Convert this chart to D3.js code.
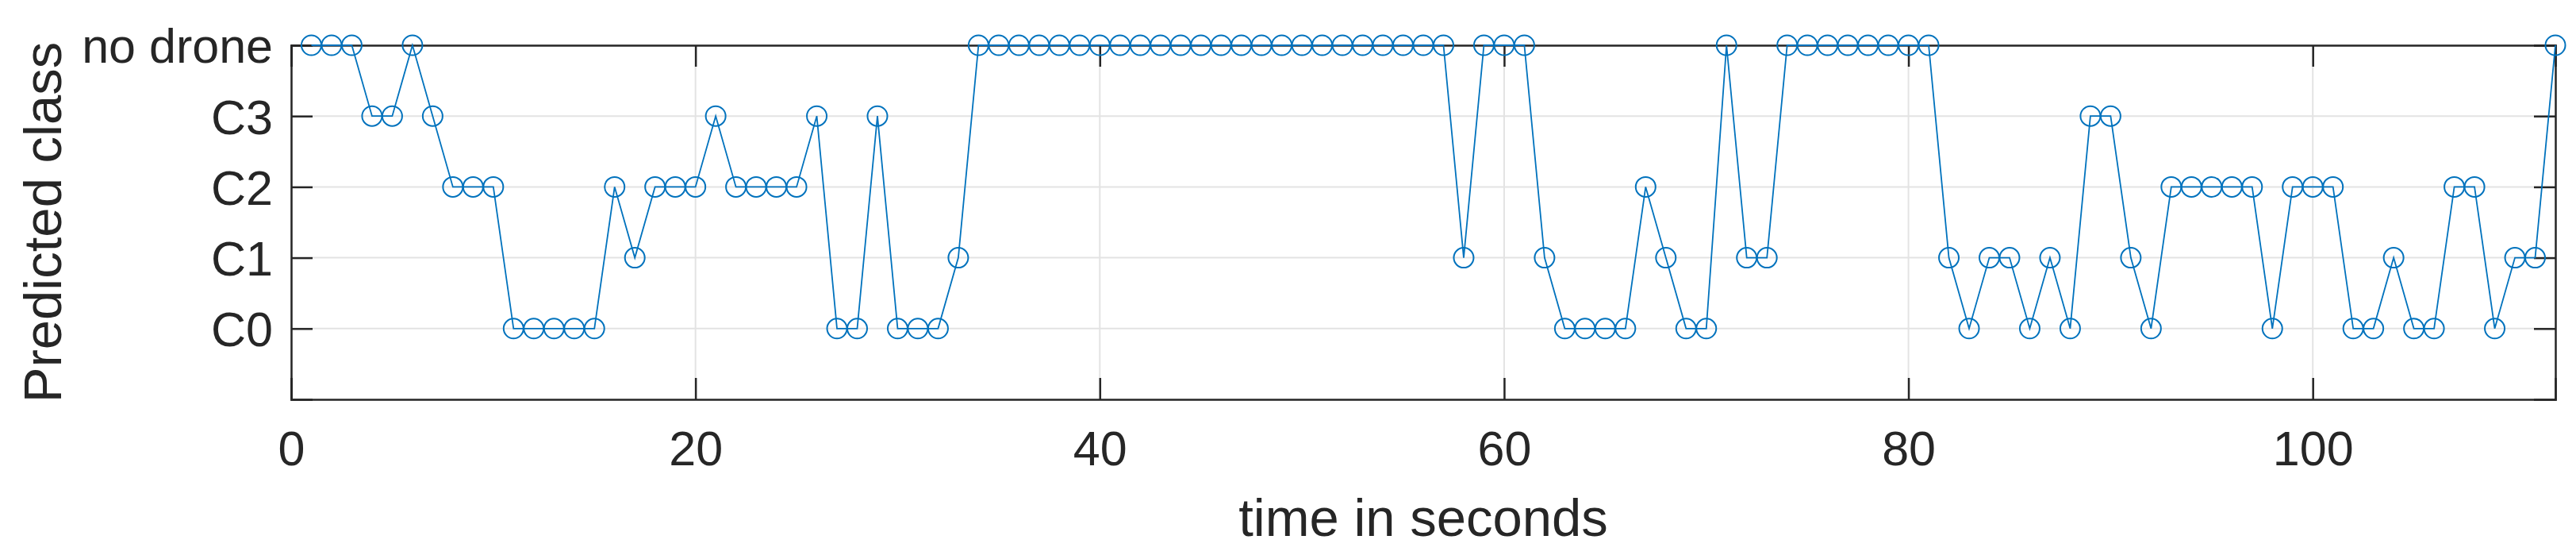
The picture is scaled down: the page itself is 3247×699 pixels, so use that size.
<!DOCTYPE html>
<html lang="en">
	<head>
		<meta charset="utf-8">
		<title>Predicted class over time</title>
		<script type="text/javascript" src="https://d3js.org/d3.v7.min.js"></script>
		<style type="text/css">
			body { margin: 0; background: white; }
			svg text { font-family: "Liberation Sans", Arial, sans-serif; fill: #262626; }
		</style>
		<script>
			const width = 3247;
			const height = 699;
			const margin = { left: 367, right: 26, top: 57, bottom: 196 };

			// predicted class per second (0 = C0 ... 4 = no drone)
			const seconds = d3.range(1, 113);
			const predicted = [
				4, 4, 4, 3, 3, 4, 3, 2, 2, 2,
				0, 0, 0, 0, 0, 2, 1, 2, 2, 2,
				3, 2, 2, 2, 2, 3, 0, 0, 3, 0,
				0, 0, 1, 4, 4, 4, 4, 4, 4, 4,
				4, 4, 4, 4, 4, 4, 4, 4, 4, 4,
				4, 4, 4, 4, 4, 4, 4, 1, 4, 4,
				4, 1, 0, 0, 0, 0, 2, 1, 0, 0,
				4, 1, 1, 4, 4, 4, 4, 4, 4, 4,
				4, 1, 0, 1, 1, 0, 1, 0, 3, 3,
				1, 0, 2, 2, 2, 2, 2, 0, 2, 2,
				2, 0, 0, 1, 0, 0, 2, 2, 0, 1,
				1, 4
			];
			const classLabels = ["C0", "C1", "C2", "C3", "no drone"];
			const xTicks = [0, 20, 40, 60, 80, 100];

			const init = () => {
				const svg = d3.select("#escenario")
					.attr("width", width)
					.attr("height", height);

				const x = d3.scaleLinear()
					.domain([0, 112])
					.range([margin.left, width - margin.right]);

				const y = d3.scaleLinear()
					.domain([-1, 4])
					.range([height - margin.bottom, margin.top]);

				const x0 = x.range()[0], x1 = x.range()[1];
				const y0 = y.range()[0], y1 = y.range()[1];

				// grid
				svg.append("g")
					.selectAll("line")
					.data(xTicks)
					.enter().append("line")
					.attr("x1", d => x(d)).attr("x2", d => x(d))
					.attr("y1", y1).attr("y2", y0)
					.attr("stroke", "#e3e3e3").attr("stroke-width", 2);
				svg.append("g")
					.selectAll("line")
					.data(d3.range(0, 5))
					.enter().append("line")
					.attr("x1", x0).attr("x2", x1)
					.attr("y1", d => y(d)).attr("y2", d => y(d))
					.attr("stroke", "#e3e3e3").attr("stroke-width", 2);

				// axes (ticks drawn inward, mirrored on top / right)
				const tickLen = 27;
				const bottomAxis = d3.axisBottom(x).tickValues(xTicks).tickSize(-tickLen).tickPadding(40).tickFormat(d3.format("d"));
				const topAxis = d3.axisTop(x).tickValues(xTicks).tickSize(-tickLen).tickFormat("");
				const leftAxis = d3.axisLeft(y).tickValues(d3.range(0, 5)).tickSize(-tickLen).tickPadding(23).tickFormat(d => classLabels[d]);
				const rightAxis = d3.axisRight(y).tickValues(d3.range(0, 5)).tickSize(-tickLen).tickFormat("");

				const styleAxis = g => {
					g.select(".domain").attr("stroke", "#262626").attr("stroke-width", 2.5);
					g.selectAll(".tick line").attr("stroke", "#262626").attr("stroke-width", 2.5);
					g.selectAll(".tick text").attr("font-size", 61).attr("fill", "#262626");
				};

				svg.append("g").attr("transform", "translate(0," + y0 + ")").call(bottomAxis).call(styleAxis)
					.selectAll(".tick text").attr("dy", "0.71em");
				svg.append("g").attr("transform", "translate(0," + y1 + ")").call(topAxis).call(styleAxis);
				svg.append("g").attr("transform", "translate(" + x0 + ",0)").call(leftAxis).call(styleAxis)
					.selectAll(".tick text").attr("dy", "0.36em");
				svg.append("g").attr("transform", "translate(" + x1 + ",0)").call(rightAxis).call(styleAxis);

				// line + markers
				const points = seconds.map((s, i) => [s, predicted[i]]);
				svg.append("path")
					.datum(points)
					.attr("fill", "none")
					.attr("stroke", "#0072BD")
					.attr("stroke-width", 1.8)
					.attr("d", d3.line().x(d => x(d[0])).y(d => y(d[1])));

				svg.append("g")
					.selectAll("circle")
					.data(points)
					.enter().append("circle")
					.attr("cx", d => x(d[0]))
					.attr("cy", d => y(d[1]))
					.attr("r", 12.5)
					.attr("fill", "none")
					.attr("stroke", "#0072BD")
					.attr("stroke-width", 2);

				// labels
				svg.append("text")
					.attr("x", (x0 + x1) / 2)
					.attr("y", 675)
					.attr("text-anchor", "middle")
					.attr("font-size", 67)
					.text("time in seconds");

				svg.append("text")
					.attr("transform", "translate(77," + (y0 + y1) / 2 + ") rotate(-90)")
					.attr("text-anchor", "middle")
					.attr("font-size", 67)
					.text("Predicted class");
			};
		</script>
	</head>
	<body>
		<svg id="escenario"></svg>
		<script type="text/javascript">
			init();
		</script>
	</body>
</html>
